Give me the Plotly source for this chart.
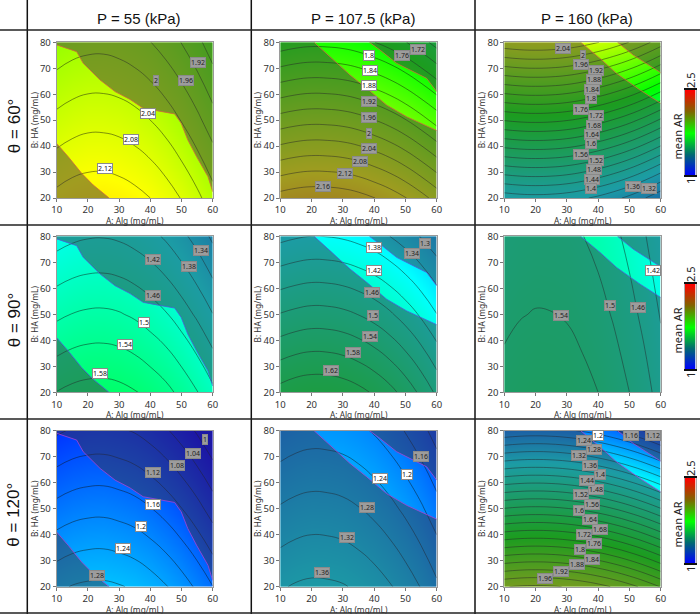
import plotly.graph_objects as go

W, H = 700, 614
alg = [10, 15, 20, 25, 30, 35, 40, 45, 50, 55, 60]
ha = [20, 50, 80]
pressures = ["P = 55 (kPa)", "P = 107.5 (kPa)", "P = 160 (kPa)"]
angles = ["θ = 60°", "θ = 90°", "θ = 120°"]

ar_p55_t60 = [[2.131,2.141,2.146,2.147,2.142,2.133,2.120,2.101,2.078,2.050,2.017],
              [2.051,2.061,2.067,2.067,2.063,2.054,2.040,2.022,1.998,1.970,1.937],
              [1.972,1.982,1.987,1.988,1.983,1.974,1.961,1.942,1.919,1.891,1.858]]
ar_p55_t90 = [[1.581,1.590,1.595,1.596,1.592,1.583,1.569,1.552,1.529,1.502,1.470],
              [1.492,1.501,1.506,1.507,1.503,1.494,1.480,1.463,1.440,1.413,1.381],
              [1.403,1.412,1.417,1.418,1.414,1.405,1.392,1.374,1.351,1.324,1.292]]
ar_p55_t120 = [[1.272,1.282,1.287,1.288,1.283,1.275,1.261,1.243,1.220,1.193,1.161],
               [1.173,1.183,1.188,1.189,1.184,1.176,1.162,1.144,1.121,1.094,1.062],
               [1.074,1.084,1.089,1.090,1.085,1.077,1.063,1.045,1.022,0.995,0.963]]
ar_p107_t60 = [[2.177,2.185,2.189,2.188,2.184,2.175,2.161,2.144,2.122,2.095,2.065],
               [1.977,1.985,1.989,1.988,1.984,1.975,1.961,1.944,1.922,1.895,1.865],
               [1.777,1.785,1.789,1.788,1.784,1.775,1.761,1.744,1.722,1.695,1.665]]
ar_p107_t90 = [[1.635,1.646,1.651,1.650,1.644,1.632,1.615,1.593,1.565,1.531,1.492],
               [1.502,1.510,1.515,1.514,1.509,1.499,1.485,1.466,1.442,1.414,1.381],
               [1.369,1.376,1.380,1.379,1.375,1.367,1.356,1.340,1.321,1.298,1.272]]
ar_p107_t120 = [[1.356,1.364,1.368,1.367,1.363,1.354,1.341,1.324,1.303,1.278,1.248],
                [1.284,1.292,1.296,1.295,1.291,1.282,1.269,1.252,1.231,1.206,1.176],
                [1.211,1.219,1.223,1.222,1.218,1.209,1.196,1.179,1.158,1.133,1.103]]
ar_p160_t60 = [[1.377,1.383,1.385,1.383,1.377,1.366,1.351,1.332,1.309,1.281,1.249],
               [1.722,1.728,1.730,1.728,1.722,1.711,1.696,1.677,1.654,1.626,1.594],
               [2.067,2.073,2.075,2.073,2.067,2.056,2.041,2.022,1.999,1.971,1.939]]
ar_p160_t90 = [[1.556,1.564,1.568,1.567,1.563,1.553,1.540,1.522,1.500,1.474,1.443],
               [1.530,1.538,1.542,1.541,1.537,1.527,1.514,1.496,1.474,1.448,1.417],
               [1.504,1.512,1.516,1.515,1.511,1.501,1.488,1.470,1.448,1.422,1.391]]
ar_p160_t120 = [[1.998,2.004,2.006,2.004,1.998,1.988,1.974,1.956,1.934,1.908,1.878],
                [1.602,1.608,1.610,1.608,1.602,1.592,1.578,1.560,1.538,1.512,1.482],
                [1.206,1.212,1.214,1.212,1.206,1.196,1.182,1.164,1.142,1.116,1.086]]
surfaces = [[ar_p55_t60, ar_p107_t60, ar_p160_t60],
            [ar_p55_t90, ar_p107_t90, ar_p160_t90],
            [ar_p55_t120, ar_p107_t120, ar_p160_t120]]

# Edges of the design space (A, B), one pair of edges per pressure
edge_p55_upper_x = [10,12.1,16.4,18.5,23.9,28.7,33.5,37.7,41.4,47.8,49.9,52,54.8,58.5,60]
edge_p55_upper_y = [79,78.1,76.4,71.9,65.5,61,58,54.6,53.7,52.4,48.8,42.4,36,28.2,22.4]
edge_p55_lower_x = [10,13.7,18,21.7,26.8]
edge_p55_lower_y = [41,35.9,29.5,25,20]
edge_p107_lower_x = [20.8,25.9,32.3,37.6,44,50.4,60]
edge_p107_lower_y = [80,74.5,67.4,62.3,55.8,51.3,46]
edge_p107_upper_x = [38.5,41.9,47.2,52.5,56.8,60]
edge_p107_upper_y = [80,77,71.9,68.7,66.1,61]
edge_p160_lower_x = [34.4,40.6,45.9,53.4,60]
edge_p160_lower_y = [80,73.8,68,61.6,56.5]
edge_p160_upper_x = [46.2,51.2,60]
edge_p160_upper_y = [80,75.1,68.3]

# Contour label text with its place in (A, B); 1 = inside the design space
labels_p55_t60 = [("2.12",25.6,31.2,1),("2.08",33.9,42.6,1),("2.04",39.4,52.4,1),("2",41.8,65.1,0),("1.96",51.3,65.1,0),("1.92",55.2,72.3,0)]
labels_p55_t90 = [("1.58",23.8,27.3,1),("1.54",31.9,38.2,1),("1.5",37.9,47,1),("1.46",41,57.3,0),("1.42",41,70.9,0),("1.38",52.3,68.2,0),("1.34",56.2,74.5,0)]
labels_p55_t120 = [("1.28",23,24.4,0),("1.24",31.2,34.6,1),("1.2",36.9,43.2,1),("1.16",40.9,51.8,1),("1.12",40.9,63.8,0),("1.08",48.7,66.8,0),("1.04",53.6,71.3,0),("1",57.4,76.7,0)]
labels_p107_t60 = [("1.8",38.3,75.1,1),("1.84",38.7,69,1),("1.88",38.3,63.2,1),("1.92",38.3,57.1,0),("1.96",38.3,51.1,0),("2",38.3,45,0),("2.04",38.3,39,0),("2.08",35.6,34.1,0),("2.12",30.7,29.5,0),("2.16",23.8,24.3,0),("1.76",49,75.1,0),("1.72",53.9,77.4,0)]
labels_p107_t90 = [("1.38",40,75.8,1),("1.42",40,66.9,1),("1.46",39.3,58.5,0),("1.5",39.6,49.5,0),("1.54",38.7,41.3,0),("1.58",33.2,35.4,0),("1.62",26.2,28.5,0),("1.34",52,73.5,0),("1.3",56.3,77.3,0)]
labels_p107_t120 = [("1.2",50.6,63.2,1),("1.24",41.9,61.5,1),("1.28",37.6,50.3,0),("1.32",31.2,39.1,0),("1.36",23.2,25.4,0),("1.16",55,70,0)]
labels_p160_t60 = [("2.04",28.9,77.6,0),("2",35.3,75,0),("1.96",34.4,71.5,0),("1.92",39.3,69,0),("1.88",38.7,65.5,0),("1.84",38.1,62,0),("1.8",37.6,58.3,0),("1.76",34.4,54,0),("1.72",39.3,51.7,0),("1.68",38.7,48,0),("1.64",38.1,44.5,0),("1.6",37.6,41,0),("1.56",34.4,36.7,0),("1.52",39.3,34.4,0),("1.48",38.7,30.8,0),("1.44",38.1,27,0),("1.4",37.6,23.6,0),("1.36",51.3,24.6,0),("1.32",56.3,23.6,0)]
labels_p160_t90 = [("1.54",28.1,49.7,0),("1.5",43.8,53.2,0),("1.46",52.8,52.6,0),("1.42",57.4,66.8,1)]
labels_p160_t120 = [("1.96",23,23.2,0),("1.92",28,26,0),("1.88",33.1,28.5,0),("1.84",38.1,30.5,0),("1.8",34.2,34.2,0),("1.76",38.7,36.5,0),("1.72",35.6,40,0),("1.68",40.6,42,0),("1.64",37.4,45.8,0),("1.6",33.8,49.4,0),("1.56",38.1,51.7,0),("1.52",34.4,55.3,0),("1.48",39.3,57.4,0),("1.44",36.3,60.9,0),("1.4",40.6,63.2,0),("1.36",37.4,66.8,0),("1.32",33.8,70.5,0),("1.28",38.7,72.6,0),("1.24",35.6,76.3,0),("1.2",40,78,1),("1.16",50.5,78,0),("1.12",57.4,78,0)]
labels = [[labels_p55_t60, labels_p107_t60, labels_p160_t60],
          [labels_p55_t90, labels_p107_t90, labels_p160_t90],
          [labels_p55_t120, labels_p107_t120, labels_p160_t120]]
level_start = [0.92, 0.94, 0.92]

bar_levels = [[1], [1.375], [1.75], [2.125], [2.5]]
bar_ticks = ["1", "2.5"]
bar_title = "mean AR"

RAINBOW = [[0, "#0000ff"], [0.25, "#00ffff"], [0.5, "#00ff00"], [0.75, "#ffff00"], [1, "#ff0000"]]
BAR_SCALE = [[0, "#0000ff"], [0.25, "#006a70"], [0.5, "#00ff00"], [0.75, "#806400"], [1, "#ff0000"]]
DIM = "rgba(58,48,66,0.48)"
EDGE_COLOR = ["#cf6a3c", "#4a60d8", "#a843d8"]
TICK_FONT = "Noto Sans"
HEAD_FONT = "Liberation Sans"

COL_X = [(56.7, 212.7), (280.3, 436.7), (504.3, 660.7)]
ROW_Y = [(42.3, 198), (236.3, 392.3), (430.7, 586.7)]
BAR_Y = [(90, 175), (284, 369), (478, 563)]
BAR_X = (684.5, 695.5)
V_LINES = [27.3, 251.3, 475]
H_LINES = [30, 225, 419, 613]


def px(v):
    return v / W


def py(v):
    return 1 - v / H


dim_regions = [
    [(edge_p55_upper_x + [60, 10], edge_p55_upper_y + [80, 80]), (edge_p55_lower_x + [10], edge_p55_lower_y + [20])],
    [(edge_p107_lower_x + [60, 10, 10], edge_p107_lower_y + [20, 20, 80]), (edge_p107_upper_x + [60], edge_p107_upper_y + [80])],
    [(edge_p160_lower_x + [60, 10, 10], edge_p160_lower_y + [20, 20, 80]), (edge_p160_upper_x + [60], edge_p160_upper_y + [80])],
]
edges = [
    [(edge_p55_upper_x, edge_p55_upper_y), (edge_p55_lower_x, edge_p55_lower_y)],
    [(edge_p107_lower_x, edge_p107_lower_y), (edge_p107_upper_x, edge_p107_upper_y)],
    [(edge_p160_lower_x, edge_p160_lower_y), (edge_p160_upper_x, edge_p160_upper_y)],
]

fig = go.Figure()
layout = {}
annotations = []
shapes = []
n = 0
for r in range(3):
    for c in range(3):
        n += 1
        xa, ya = f"x{n}", f"y{n}"
        z = surfaces[r][c]
        fig.add_trace(go.Heatmap(x=alg, y=ha, z=z, zmin=1, zmax=2.5, zsmooth="best",
                                 colorscale=RAINBOW, showscale=False, xaxis=xa, yaxis=ya, hoverinfo="skip"))
        fig.add_trace(go.Contour(x=alg, y=ha, z=z, xaxis=xa, yaxis=ya, showscale=False, hoverinfo="skip",
                                 autocontour=False,
                                 contours=dict(start=level_start[r], end=2.24, size=0.04, coloring="none"),
                                 line=dict(color="rgba(15,20,15,0.78)", width=0.6, smoothing=1.3)))
        for rx, ry in dim_regions[c]:
            fig.add_trace(go.Scatter(x=rx, y=ry, fill="toself", fillcolor=DIM, mode="none",
                                     xaxis=xa, yaxis=ya, hoverinfo="skip", showlegend=False))
        for ex, ey in edges[c]:
            fig.add_trace(go.Scatter(x=ex, y=ey, mode="lines", line=dict(color=EDGE_COLOR[r], width=0.8),
                                     xaxis=xa, yaxis=ya, hoverinfo="skip", showlegend=False))
        layout[f"xaxis{n}"] = dict(
            domain=[px(COL_X[c][0]), px(COL_X[c][1])], anchor=ya, range=[10, 60], automargin=False,
            tickvals=[10, 20, 30, 40, 50, 60], ticks="outside", ticklen=3, tickcolor="#777", tickwidth=1,
            showgrid=False, zeroline=False, showline=True, mirror=True, linecolor="#9a9a9a", linewidth=1,
            tickfont=dict(family=TICK_FONT, size=9.5, color="#333"))
        annotations.append(dict(x=px(sum(COL_X[c]) / 2), y=py(ROW_Y[r][1] + 22.3), xref="paper", yref="paper",
                                text="A: Alg (mg/mL)", xanchor="center", yanchor="middle", showarrow=False,
                                font=dict(family=TICK_FONT, size=8.3, color="#333")))
        layout[f"yaxis{n}"] = dict(
            domain=[py(ROW_Y[r][1]), py(ROW_Y[r][0])], anchor=xa, range=[20, 80], automargin=False,
            tickvals=[20, 30, 40, 50, 60, 70, 80], ticks="outside", ticklen=3, tickcolor="#777", tickwidth=1,
            showgrid=False, zeroline=False, showline=True, mirror=True, linecolor="#9a9a9a", linewidth=1,
            tickfont=dict(family=TICK_FONT, size=9.5, color="#333"),
            title=dict(text="B: HA (mg/mL)", font=dict(family=TICK_FONT, size=8.3, color="#333"), standoff=0))
        for text, lx, ly, inside in labels[r][c]:
            annotations.append(dict(
                x=lx, y=ly, xref=xa, yref=ya, text=text, showarrow=False, borderpad=0, borderwidth=1,
                bgcolor="#ffffff" if inside else "#9c9c9c", bordercolor="#8a8a8a",
                font=dict(family=TICK_FONT, size=7, color="#111" if inside else "#222")))
    # colour bar of the row
    n += 1
    xa, ya = f"x{n}", f"y{n}"
    fig.add_trace(go.Heatmap(x=[0, 1], y=[lv[0] for lv in bar_levels], z=[[lv[0], lv[0]] for lv in bar_levels],
                             zmin=1, zmax=2.5, zsmooth="best", colorscale=BAR_SCALE, showscale=False,
                             xaxis=xa, yaxis=ya, hoverinfo="skip"))
    layout[f"xaxis{n}"] = dict(domain=[px(BAR_X[0]), px(BAR_X[1])], anchor=ya, range=[0, 1], showticklabels=False,
                               ticks="", showgrid=False, zeroline=False, showline=True, mirror=True,
                               linecolor="#111", linewidth=2, automargin=False)
    layout[f"yaxis{n}"] = dict(domain=[py(BAR_Y[r][1]), py(BAR_Y[r][0])], anchor=xa, range=[1, 2.5],
                               showticklabels=False, ticks="", showgrid=False, zeroline=False, showline=True,
                               mirror=True, linecolor="#aaaaaa", linewidth=1, automargin=False)
    mid = (BAR_X[0] + BAR_X[1]) / 2
    common = dict(xref="paper", yref="paper", xanchor="center", yanchor="middle", textangle=-90, showarrow=False)
    annotations.append(dict(x=px(mid), y=py(BAR_Y[r][0] - 10), text=bar_ticks[1],
                            font=dict(family=TICK_FONT, size=11, color="#222"), **common))
    annotations.append(dict(x=px(mid), y=py(BAR_Y[r][1] + 6), text=bar_ticks[0],
                            font=dict(family=TICK_FONT, size=11, color="#222"), **common))
    annotations.append(dict(x=px(677), y=py(sum(BAR_Y[r]) / 2 + 4), text=bar_title,
                            font=dict(family=TICK_FONT, size=11, color="#222"), **common))
    # row heading
    annotations.append(dict(x=px(14), y=py(sum(ROW_Y[r]) / 2 + 6), text=angles[r],
                            font=dict(family=HEAD_FONT, size=17, color="#111"), **common))

for c in range(3):
    annotations.append(dict(x=px(sum(COL_X[c]) / 2 + 4), y=py(18.5), xref="paper", yref="paper", text=pressures[c],
                            xanchor="center", yanchor="middle", showarrow=False,
                            font=dict(family=HEAD_FONT, size=15, color="#111")))
for v in V_LINES:
    shapes.append(dict(type="line", xref="paper", yref="paper", x0=px(v), x1=px(v), y0=0, y1=1,
                       line=dict(color="#111", width=1.5)))
for h in H_LINES:
    shapes.append(dict(type="line", xref="paper", yref="paper", x0=0, x1=1, y0=py(h), y1=py(h),
                       line=dict(color="#222", width=1.5)))

fig.update_layout(width=W, height=H, autosize=False, margin=dict(l=0, r=0, t=0, b=0, autoexpand=False),
                  paper_bgcolor="white", plot_bgcolor="white", showlegend=False,
                  annotations=annotations, shapes=shapes, **layout)
fig.write_html("out.html", config={"displayModeBar": False},
               post_script="document.body.style.margin='0';document.documentElement.style.overflow='hidden';")
